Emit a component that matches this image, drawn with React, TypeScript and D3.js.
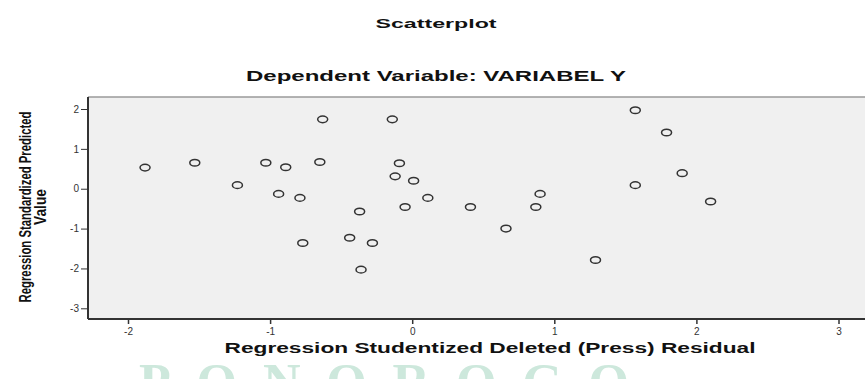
import { useEffect, useRef } from "react";
import * as d3 from "d3";

// residuals (x) and standardized predicted values (y)
const residuals = [
     -1.88, -1.53, -1.23, -1.03, -0.89, -0.94,
     -0.63, -0.14, -0.65, -0.09, -0.12, 0.01, -0.79, 0.11, -0.05, 0.41, 0.87, 0.90,
     -0.37, 0.66, -0.77, -0.44, -0.28, -0.36,
     1.57, 1.79, 1.90, 1.57, 2.10, 1.29,
];
const predicted = [
     0.53, 0.65, 0.09, 0.65, 0.54, -0.13,
     1.74, 1.74, 0.67, 0.64, 0.31, 0.20, -0.23, -0.23, -0.46, -0.46, -0.46, -0.13,
     -0.57, -1.00, -1.36, -1.23, -1.36, -2.03,
     1.97, 1.41, 0.39, 0.09, -0.32, -1.79,
];
const xTicks = [-2, -1, 0, 1, 2, 3];
const yTicks = [-3, -2, -1, 0, 1, 2];

const width = 865;
const height = 379;
const frame = { left: 88, top: 97, right: 893, bottom: 319 };

const FONT = "'Liberation Sans', Arial, sans-serif";

export default function App() {
     const xAxisRef = useRef<SVGGElement>(null);
     const yAxisRef = useRef<SVGGElement>(null);

     // -2 sits at 128px, 3 at ~838px; 2 at 109px, -3 at ~308px
     const xScale = d3.scaleLinear().domain([-2, 3]).range([128, 838.5]);
     const yScale = d3.scaleLinear().domain([-3, 2]).range([308.3, 109]);

     useEffect(() => {
          const xa = d3.select(xAxisRef.current!);
          xa.call(
               d3.axisBottom(xScale).tickValues(xTicks).tickSize(5).tickPadding(4)
                    .tickFormat((d: any) => String(d))
          );
          xa.select(".domain").remove();
          xa.selectAll("line").attr("stroke", "#333").attr("stroke-width", 1.5);
          xa.selectAll("text").attr("fill", "#333").style("font-size", "10px").style("font-family", FONT);

          const ya = d3.select(yAxisRef.current!);
          ya.call(
               d3.axisLeft(yScale).tickValues(yTicks).tickSize(7).tickPadding(2)
                    .tickFormat((d: any) => String(d))
          );
          ya.select(".domain").remove();
          ya.selectAll("line").attr("stroke", "#333").attr("stroke-width", 1);
          ya.selectAll("text").attr("fill", "#333").style("font-size", "10px").style("font-family", FONT);
     }, []);

     const points = residuals.map((r, i) => ({ x: r, y: predicted[i] }));

     return (
          <svg
               width={width}
               height={height}
               style={{ position: "absolute", left: 0, top: 0, background: "#fff" }}
          >
               {/* faint watermark from the scanned page, only its top shows */}
               <text
                    x={139}
                    y={400}
                    textLength={490}
                    lengthAdjust="spacing"
                    fill="#cde8dc"
                    style={{ fontFamily: "'Liberation Serif', serif", fontSize: 52, fontWeight: "bold" }}
               >
                    PONOROGO
               </text>

               <text x={436} y={28} textAnchor="middle" textLength={121} lengthAdjust="spacingAndGlyphs"
                    style={{ fontFamily: FONT, fontSize: 13, fontWeight: "bold" }} fill="#111">
                    Scatterplot
               </text>
               <text x={436} y={81} textAnchor="middle" textLength={380} lengthAdjust="spacingAndGlyphs"
                    style={{ fontFamily: FONT, fontSize: 14, fontWeight: "bold" }} fill="#111">
                    Dependent Variable: VARIABEL Y
               </text>

               {/* plot frame */}
               <rect
                    x={frame.left}
                    y={frame.top}
                    width={frame.right - frame.left}
                    height={frame.bottom - frame.top}
                    fill="#f0f0f0"
               />
               <line x1={frame.left} x2={frame.right} y1={frame.top} y2={frame.top} stroke="#9a9a9a" strokeWidth={1.5} />
               <line x1={frame.left} x2={frame.left} y1={frame.top} y2={frame.bottom} stroke="#333" strokeWidth={2} />
               <line x1={frame.left} x2={frame.right} y1={frame.bottom} y2={frame.bottom} stroke="#333" strokeWidth={2} />

               <g ref={xAxisRef} transform={`translate(0,${frame.bottom})`} />
               <g ref={yAxisRef} transform={`translate(${frame.left},0)`} />

               {points.map((p, i) => (
                    <ellipse
                         key={i}
                         cx={xScale(p.x)}
                         cy={yScale(p.y)}
                         rx={5}
                         ry={3.3}
                         fill="none"
                         stroke="#333"
                         strokeWidth={1.5}
                    />
               ))}

               <text x={490} y={353} textAnchor="middle" textLength={531} lengthAdjust="spacingAndGlyphs"
                    style={{ fontFamily: FONT, fontSize: 14, fontWeight: "bold" }} fill="#111">
                    Regression Studentized Deleted (Press) Residual
               </text>

               <g transform="translate(31,207) rotate(-90)">
                    <text x={0} y={0} textAnchor="middle" textLength={191} lengthAdjust="spacingAndGlyphs"
                         style={{ fontFamily: FONT, fontSize: 17, fontWeight: "bold" }} fill="#111">
                         Regression Standardized Predicted
                    </text>
                    <text x={0} y={15} textAnchor="middle" textLength={36} lengthAdjust="spacingAndGlyphs"
                         style={{ fontFamily: FONT, fontSize: 17, fontWeight: "bold" }} fill="#111">
                         Value
                    </text>
               </g>
          </svg>
     );
}
